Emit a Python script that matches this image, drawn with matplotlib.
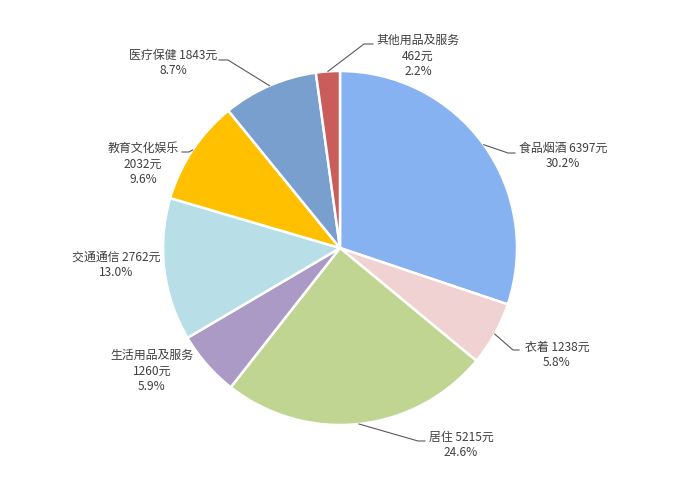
import matplotlib
matplotlib.use('Agg')
import matplotlib.pyplot as plt
import numpy as np

plt.rcParams['font.family'] = ['Noto Sans CJK SC', 'DejaVu Sans']

# data
categories = ['食品烟酒', '衣着', '居住', '生活用品及服务', '交通通信', '教育文化娱乐', '医疗保健', '其他用品及服务']
values = [6397, 1238, 5215, 1260, 2762, 2032, 1843, 462]
percents = ['30.2%', '5.8%', '24.6%', '5.9%', '13.0%', '9.6%', '8.7%', '2.2%']
colors = ['#87B2F2', '#F0D2D2', '#C1D593', '#AB9AC6', '#B8DFE8', '#FFC000', '#799FCE', '#CB5C5C']

# label layout, in pixels from the top-left corner: text centre, line break style, leader elbow
label_pos = [(563, 156), (557, 355), (461, 445), (152, 371), (116, 265), (143, 164), (173, 63), (418, 56)]
label_wrap = ['two', 'two', 'two', 'three', 'two', 'three', 'two', 'three']
leader_elbow = [(508, 154), (513, 351), (418, 442), None, None, (189, 153), (228, 61), (364, 45)]
leader_end = [(515, 154), (519, 351), (425, 442), None, None, (182, 153), (219, 61), (373, 45)]

W, H = 688, 489
cx, cy, radius = 340, 249, 177

fig = plt.figure(figsize=(W / 100, H / 100), dpi=100)
ax = fig.add_axes([0, 0, 1, 1])

wedges, _ = ax.pie(values, colors=colors, startangle=90, counterclock=False,
                   center=(cx, H - cy), radius=radius,
                   wedgeprops=dict(edgecolor='white', linewidth=1.8))

ax.set_xlim(0, W)
ax.set_ylim(0, H)
ax.set_aspect('equal')
ax.axis('off')

total = sum(values)
cum = np.cumsum([0] + values)
for i, name in enumerate(categories):
    if label_wrap[i] == 'two':
        txt = f'{name} {values[i]}元\n{percents[i]}'
    else:
        txt = f'{name}\n{values[i]}元\n{percents[i]}'
    x, y = label_pos[i]
    ax.text(x, H - y, txt, ha='center', va='center', fontsize=8.6,
            color='#404040', linespacing=1.25)
    if leader_elbow[i] is not None:
        mid = (cum[i] + values[i] / 2) / total * 2 * np.pi
        ex = cx + radius * np.sin(mid)
        ey = cy - radius * np.cos(mid)
        xs = [ex, leader_elbow[i][0], leader_end[i][0]]
        ys = [H - ey, H - leader_elbow[i][1], H - leader_end[i][1]]
        ax.plot(xs, ys, color='#595959', linewidth=0.8)

fig.savefig('out.png', dpi=100)
